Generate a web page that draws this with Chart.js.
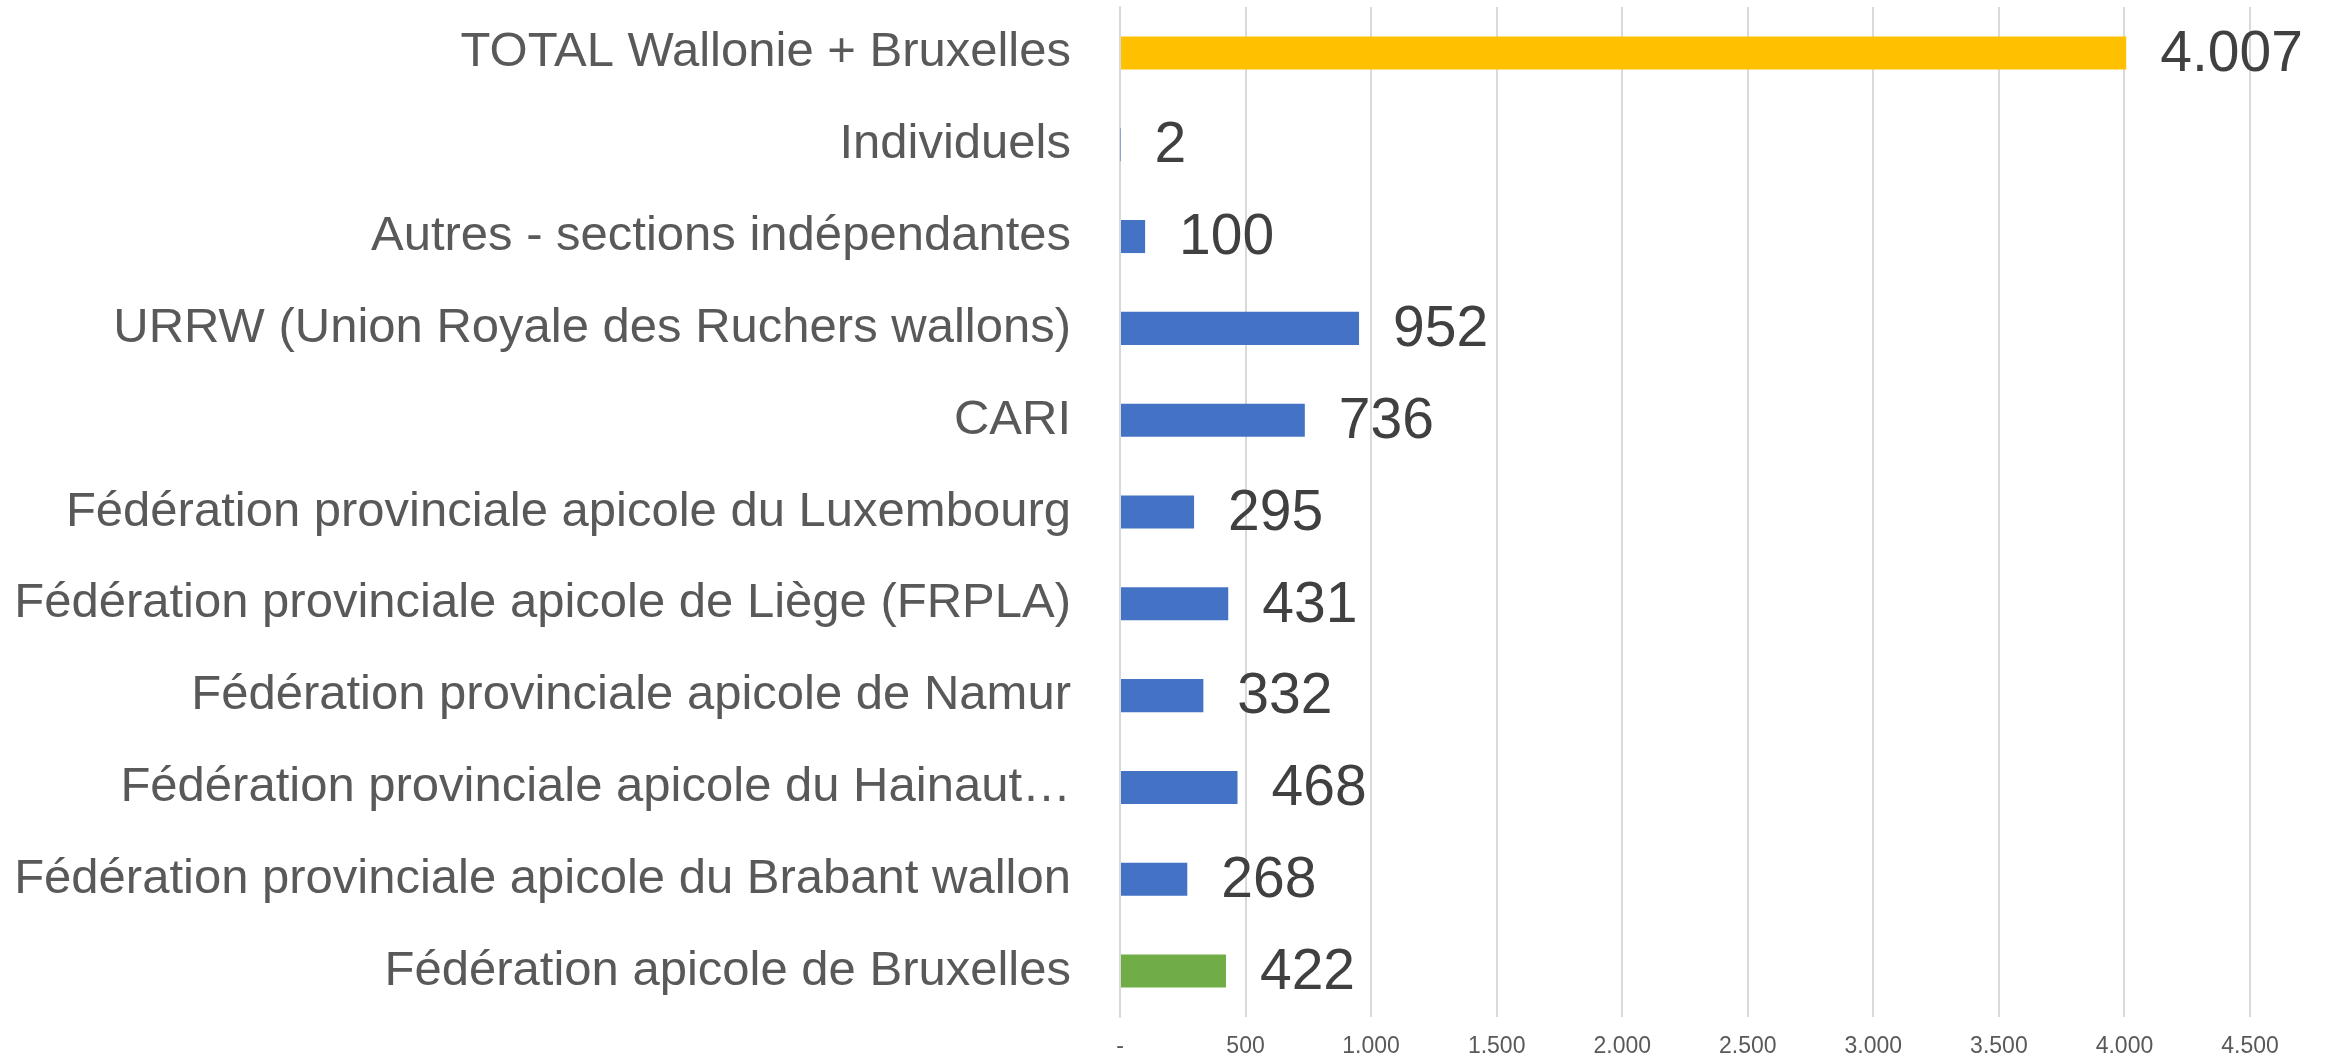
<!DOCTYPE html>
<html>
<head>
<meta charset="utf-8">
<script src="https://cdn.jsdelivr.net/npm/chart.js@4/dist/chart.umd.min.js"></script>
<style>
  html, body { margin: 0; padding: 0; background: #ffffff; }
  #wrap { width: 2331px; height: 1058px; }
</style>
</head>
<body>
<div id="wrap"><canvas id="bars" width="2331" height="1058"></canvas></div>
<script>
// categories, top to bottom
const categories = [
  "TOTAL Wallonie + Bruxelles",
  "Individuels",
  "Autres - sections indépendantes",
  "URRW (Union Royale des Ruchers wallons)",
  "CARI",
  "Fédération provinciale apicole du Luxembourg",
  "Fédération provinciale apicole de Liège (FRPLA)",
  "Fédération provinciale apicole de Namur",
  "Fédération provinciale apicole du Hainaut…",
  "Fédération provinciale apicole du Brabant wallon",
  "Fédération apicole de Bruxelles",
];
const members = [4007, 2, 100, 952, 736, 295, 431, 332, 468, 268, 422];
const barColors = [
  "#FFC000", "#4472C4", "#4472C4", "#4472C4", "#4472C4", "#4472C4",
  "#4472C4", "#4472C4", "#4472C4", "#4472C4", "#70AD47",
];
const tickValues = [0, 500, 1000, 1500, 2000, 2500, 3000, 3500, 4000, 4500];

// belgian style thousands: 4.007
const fmt = (v) => String(v).replace(/\B(?=(\d{3})+(?!\d))/g, ".");

// value labels drawn at the end of each bar
const valueLabels = {
  id: "valueLabels",
  afterDatasetsDraw(chart) {
    const ctx = chart.ctx;
    const meta = chart.getDatasetMeta(0);
    ctx.save();
    ctx.font = '57px "Liberation Sans", Arial, sans-serif';
    ctx.fillStyle = "#404040";
    ctx.textAlign = "left";
    ctx.textBaseline = "middle";
    meta.data.forEach((bar, i) => {
      ctx.fillText(fmt(members[i]), bar.x + 34, bar.y + 2);
    });
    ctx.restore();
  },
};

const whiteBg = {
  id: "whiteBg",
  beforeDraw(chart) {
    const ctx = chart.ctx;
    ctx.save();
    ctx.fillStyle = "#ffffff";
    ctx.fillRect(0, 0, chart.width, chart.height);
    ctx.restore();
  },
};

const config = {
  type: "bar",
  data: {
    labels: categories,
    datasets: [
      {
        data: members,
        backgroundColor: barColors,
        borderWidth: 0,
        barPercentage: 0.36,
        categoryPercentage: 1,
      },
    ],
  },
  options: {
    indexAxis: "y",
    responsive: false,
    animation: false,
    layout: { padding: { top: 7, right: 81, bottom: 0, left: 0 } },
    plugins: {
      legend: { display: false },
      tooltip: { enabled: false },
    },
    scales: {
      x: {
        min: 0,
        max: 4500,
        afterBuildTicks: (scale) => {
          scale.ticks = tickValues.map((v) => ({ value: v }));
        },
        afterFit: (scale) => {
          scale.height = 41;
          scale.paddingLeft = 0;
          scale.paddingRight = 0;
        },
        ticks: {
          callback: (v) => (v === 0 ? "-" : fmt(v)),
          color: "#595959",
          font: { family: '"Liberation Sans", Arial, sans-serif', size: 23 },
          padding: 16,
          maxRotation: 0,
        },
        grid: { color: "#d9d9d9", lineWidth: 2, drawTicks: false },
        border: { display: false },
      },
      y: {
        afterFit: (scale) => {
          scale.width = 1120;
          // keep the big labels from eating the plot height
          scale.paddingTop = 0;
          scale.paddingBottom = 0;
        },
        ticks: {
          color: "#595959",
          font: { family: '"Liberation Sans", Arial, sans-serif', size: 49 },
          padding: 41,
        },
        grid: { display: false },
        border: { display: true, color: "#d9d9d9", width: 2 },
      },
    },
  },
  plugins: [whiteBg, valueLabels],
};

const chart = new Chart(document.querySelector("#bars"), config);
</script>
</body>
</html>
